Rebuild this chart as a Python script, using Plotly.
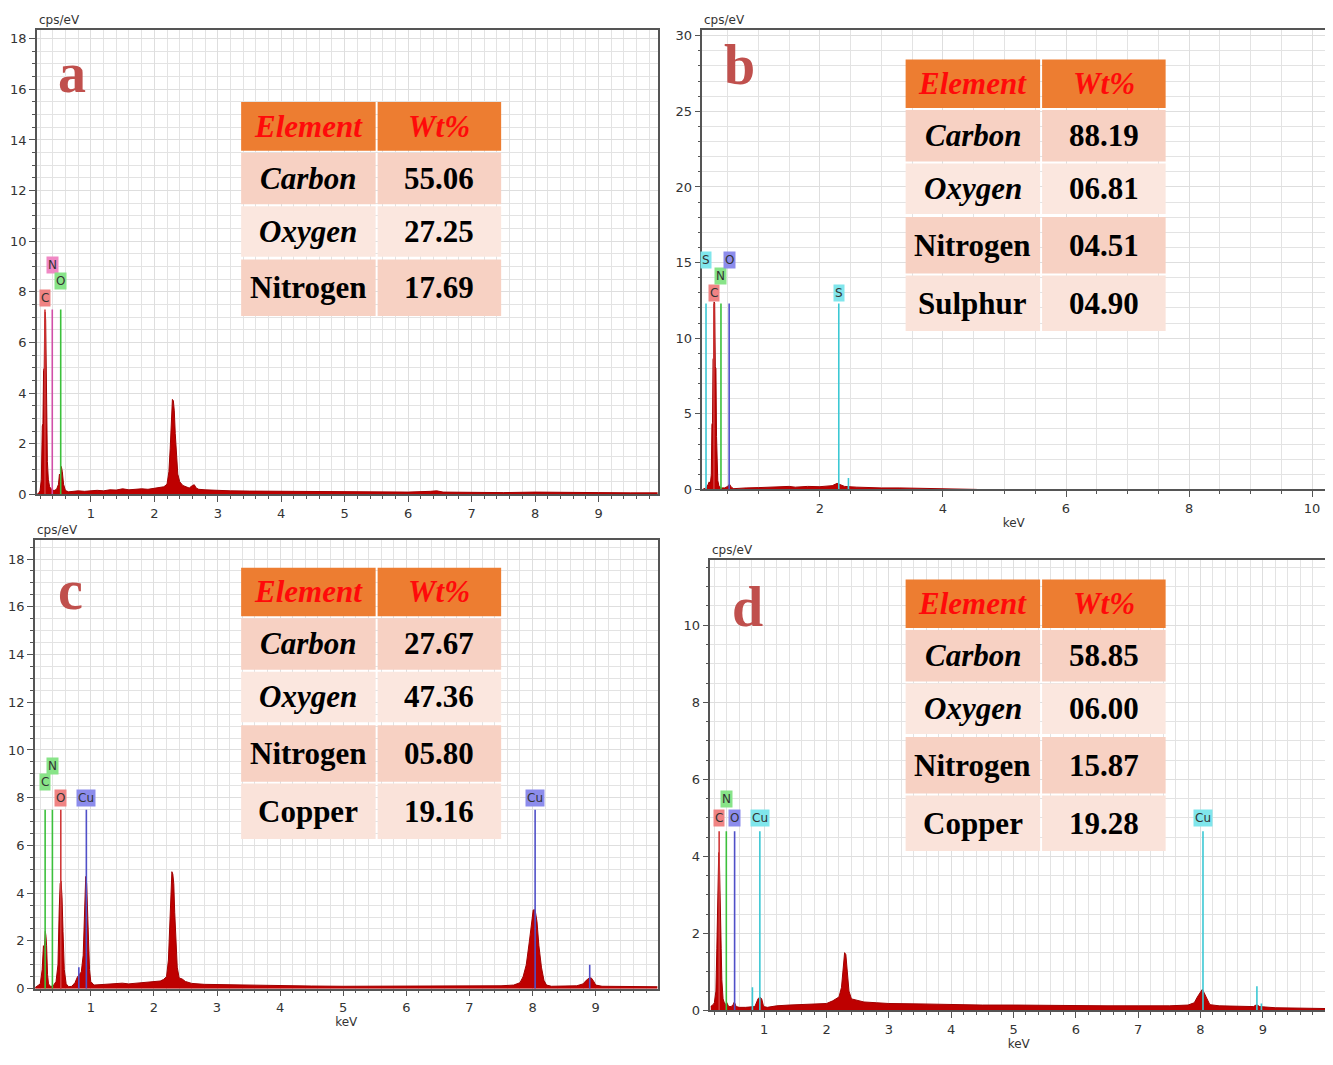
import plotly.graph_objects as go

# page body has an 8px margin: the figure is made smaller and reference pixel coords shifted
OFF = 8
OFF_X = 8
W, H = 1333 - OFF, 1065 - OFF

# ---------------- spectra (keV, cps/eV) ----------------
a_energy = [0.15, 0.18, 0.20, 0.22, 0.235, 0.245, 0.255, 0.265, 0.272, 0.28, 0.288, 0.295, 0.305, 0.315,
            0.33, 0.35, 0.38, 0.42, 0.46, 0.49, 0.505, 0.52, 0.535, 0.55, 0.57, 0.60, 0.65, 0.70, 0.80,
            0.90, 1.0, 1.1, 1.2, 1.3, 1.4, 1.5, 1.6, 1.7, 1.8, 1.9, 2.0, 2.1, 2.15, 2.2, 2.23, 2.25,
            2.27, 2.285, 2.30, 2.315, 2.33, 2.35, 2.37, 2.40, 2.45, 2.5, 2.55, 2.6, 2.63, 2.66, 2.7,
            2.8, 3.0, 3.2, 3.5, 4.0, 4.5, 5.0, 5.5, 6.0, 6.35, 6.45, 6.55, 7.0, 7.5, 8.0, 8.5, 9.0,
            9.5, 9.95]
a_counts = [0.0, 0.05, 0.15, 0.6, 2.7, 2.8, 4.9, 5.0, 6.8, 7.2, 6.9, 5.2, 2.8, 1.3,
            0.6, 0.3, 0.2, 0.15, 0.2, 0.4, 0.8, 0.7, 1.1, 0.9, 0.4, 0.15, 0.1, 0.12, 0.14,
            0.12, 0.15, 0.16, 0.14, 0.18, 0.17, 0.22, 0.18, 0.2, 0.22, 0.2, 0.24, 0.26, 0.3, 0.4, 0.9, 1.8,
            3.0, 3.75, 3.7, 3.3, 2.4, 1.4, 0.8, 0.5, 0.35, 0.3, 0.25, 0.35, 0.38, 0.25, 0.2,
            0.18, 0.15, 0.14, 0.13, 0.12, 0.1, 0.09, 0.08, 0.09, 0.12, 0.14, 0.09, 0.08, 0.07, 0.09, 0.07, 0.07,
            0.06, 0.06]

b_energy = [0.09, 0.15, 0.18, 0.20, 0.22, 0.235, 0.245, 0.255, 0.263, 0.272, 0.28, 0.29, 0.30, 0.31,
            0.32, 0.33, 0.34, 0.36, 0.40, 0.45, 0.50, 0.53, 0.56, 0.60, 0.70, 0.80, 1.0, 1.2, 1.4,
            1.5, 1.6, 1.8, 2.0, 2.1, 2.2, 2.28, 2.32, 2.4, 2.6, 2.8, 3.0, 3.3, 3.6, 4.0, 4.3, 4.5, 4.55]
b_counts = [0.0, 0.1, 0.3, 0.5, 0.4, 1.0, 4.3, 4.4, 8.6, 8.7, 12.4, 12.3, 8.1, 8.0,
            3.5, 1.5, 0.6, 0.2, 0.1, 0.1, 0.2, 0.35, 0.15, 0.05, 0.1, 0.1, 0.12, 0.15, 0.18,
            0.2, 0.15, 0.2, 0.18, 0.2, 0.25, 0.4, 0.35, 0.2, 0.15, 0.12, 0.1, 0.1, 0.08, 0.06, 0.05, 0.03, 0.0]

c_energy = [0.12, 0.2, 0.23, 0.25, 0.265, 0.28, 0.29, 0.30, 0.315, 0.33, 0.36, 0.40, 0.45, 0.48, 0.50,
            0.515, 0.53, 0.545, 0.56, 0.58, 0.61, 0.65, 0.70, 0.75, 0.79, 0.82, 0.85, 0.88, 0.90, 0.92,
            0.935, 0.95, 0.965, 0.98, 1.0, 1.05, 1.1, 1.2, 1.3, 1.4, 1.5, 1.6, 1.7, 1.8, 1.9, 2.0, 2.1,
            2.15, 2.2, 2.23, 2.25, 2.27, 2.285, 2.30, 2.315, 2.33, 2.35, 2.37, 2.40, 2.45, 2.5, 2.6,
            2.8, 3.0, 3.5, 4.0, 4.5, 5.0, 5.5, 6.0, 6.5, 7.0, 7.5, 7.7, 7.8, 7.85, 7.9, 7.95, 7.98,
            8.01, 8.04, 8.07, 8.10, 8.14, 8.18, 8.22, 8.3, 8.5, 8.7, 8.8, 8.85, 8.9, 8.93, 8.97, 9.0,
            9.1, 9.5, 9.98]
c_counts = [0.05, 0.2, 0.8, 1.8, 1.7, 2.4, 2.2, 1.8, 0.6, 0.2, 0.1, 0.1, 0.3, 1.0, 3.3,
            4.4, 4.5, 3.8, 2.4, 0.8, 0.2, 0.08, 0.1, 0.25, 0.5, 0.6, 0.7, 1.4, 3.0, 4.7,
            4.4, 3.5, 2.0, 0.8, 0.3, 0.15, 0.16, 0.17, 0.18, 0.2, 0.23, 0.2, 0.22, 0.26, 0.25, 0.28, 0.32,
            0.38, 0.5, 1.2, 2.8, 4.0, 4.9, 4.8, 4.4, 3.2, 1.8, 0.9, 0.45, 0.4, 0.3, 0.22,
            0.18, 0.17, 0.14, 0.12, 0.11, 0.1, 0.1, 0.09, 0.1, 0.1, 0.12, 0.15, 0.25, 0.5, 1.0, 2.0, 2.8,
            3.3, 3.3, 2.8, 1.8, 0.9, 0.35, 0.15, 0.1, 0.1, 0.12, 0.2, 0.35, 0.45, 0.45, 0.3, 0.15,
            0.1, 0.09, 0.08]

d_energy = [0.14, 0.18, 0.20, 0.225, 0.24, 0.25, 0.26, 0.27, 0.28, 0.29, 0.30, 0.31, 0.32, 0.34, 0.37,
            0.40, 0.43, 0.47, 0.50, 0.52, 0.55, 0.60, 0.70, 0.78, 0.85, 0.90, 0.93, 0.96, 0.99, 1.05,
            1.2, 1.4, 1.6, 1.8, 2.0, 2.1, 2.2, 2.24, 2.27, 2.29, 2.31, 2.33, 2.36, 2.4, 2.5, 2.6, 2.8,
            3.0, 3.5, 4.0, 4.5, 5.0, 5.5, 6.0, 6.5, 7.0, 7.5, 7.8, 7.9, 7.95, 8.0, 8.03, 8.06, 8.1,
            8.15, 8.3, 8.6, 8.85, 8.9, 8.95, 9.2, 9.5, 10.0]
d_counts = [0.1, 0.15, 0.2, 0.5, 1.6, 2.8, 2.8, 4.1, 4.0, 2.7, 2.6, 1.6, 0.8, 0.3, 0.15,
            0.2, 0.1, 0.1, 0.15, 0.22, 0.1, 0.08, 0.08, 0.1, 0.1, 0.3, 0.35, 0.3, 0.1, 0.08,
            0.12, 0.14, 0.15, 0.16, 0.18, 0.25, 0.35, 0.6, 1.1, 1.5, 1.45, 1.0, 0.5, 0.3, 0.26, 0.22, 0.2,
            0.18, 0.17, 0.15, 0.14, 0.14, 0.13, 0.12, 0.12, 0.12, 0.12, 0.14, 0.2, 0.35, 0.5, 0.55, 0.45, 0.3,
            0.15, 0.12, 0.1, 0.1, 0.15, 0.1, 0.07, 0.06, 0.05]

# ---------------- element marker lines ----------------
a_line_elem = ['C', 'N', 'O']
a_line_keV = [0.277, 0.392, 0.525]
a_line_top = [7.3, 7.3, 7.3]
a_line_level = [0, 2, 1]
a_line_color = ['red', 'pink', 'green']

b_line_elem = ['S', 'C', 'N', 'O', 'S', 'S']
b_line_keV = [0.149, 0.277, 0.392, 0.525, 2.307, 2.464]
b_line_top = [12.3, 12.3, 12.3, 12.3, 12.3, 0.75]
b_line_level = [2, 0, 1, 2, 0, None]
b_line_color = ['cyan', 'red', 'green', 'blue', 'cyan', 'cyan']

c_line_elem = ['C', 'N', 'O', 'Cu', 'Cu', 'Cu', 'Cu']
c_line_keV = [0.277, 0.392, 0.525, 0.811, 0.930, 8.040, 8.905]
c_line_top = [7.5, 7.5, 7.5, 0.9, 7.5, 7.5, 1.0]
c_line_level = [1, 2, 0, None, 0, 0, None]
c_line_color = ['green', 'green', 'red', 'blue', 'blue', 'blue', 'blue']

d_line_elem = ['C', 'N', 'O', 'Cu', 'Cu', 'Cu', 'Cu', 'Cu']
d_line_keV = [0.277, 0.392, 0.525, 0.811, 0.930, 8.040, 8.905, 8.977]
d_line_top = [4.65, 4.65, 4.65, 0.6, 4.65, 4.65, 0.63, 0.18]
d_line_level = [0, 1, 0, None, 0, 0, None, None]
d_line_color = ['red', 'green', 'blue', 'cyan', 'cyan', 'cyan', 'cyan', 'cyan']

# ---------------- composition tables ----------------
a_tab_elem = ['Carbon', 'Oxygen', 'Nitrogen']
a_tab_wt = ['55.06', '27.25', '17.69']
b_tab_elem = ['Carbon', 'Oxygen', 'Nitrogen', 'Sulphur']
b_tab_wt = ['88.19', '06.81', '04.51', '04.90']
c_tab_elem = ['Carbon', 'Oxygen', 'Nitrogen', 'Copper']
c_tab_wt = ['27.67', '47.36', '05.80', '19.16']
d_tab_elem = ['Carbon', 'Oxygen', 'Nitrogen', 'Copper']
d_tab_wt = ['58.85', '06.00', '15.87', '19.28']

# ---------------- styles ----------------
LINE_COL = {'red': '#D03A3A', 'pink': '#D050A8', 'green': '#3CC03C', 'cyan': '#3CC8D4', 'blue': '#5050C8'}
BOX_COL = {'red': '#F08484', 'pink': '#F088C4', 'green': '#88E488', 'cyan': '#80E6EC', 'blue': '#8C8CEC'}
ITALIC_ELEM = {'Carbon', 'Oxygen'}

panels = [
    dict(s='', letter='a', e=a_energy, c=a_counts,
         le=a_line_elem, lk=a_line_keV, lt=a_line_top, ll=a_line_level, lc=a_line_color,
         te=a_tab_elem, tw=a_tab_wt,
         px=(32, 655), py=(28, 497), xr=[0.15, 9.93], yr=[0, 18.35],
         xd=1, xm=0.2, yd=2, ym=0.5, lab_base=7.77, lab_step=0.64, kev=False,
         tab=(237, 101), let_pos=(67, 72)),
    dict(s='2', letter='b', e=b_energy, c=b_counts,
         le=b_line_elem, lk=b_line_keV, lt=b_line_top, ll=b_line_level, lc=b_line_color,
         te=b_tab_elem, tw=b_tab_wt,
         px=(700, 1325), py=(28, 492), xr=[0.09, 10.21], yr=[0, 30.39],
         xd=2, xm=0.5, yd=5, ym=1, lab_base=13.0, lab_step=1.08, kev=True,
         tab=(904, 58), let_pos=(737, 64)),
    dict(s='3', letter='c', e=c_energy, c=c_counts,
         le=c_line_elem, lk=c_line_keV, lt=c_line_top, ll=c_line_level, lc=c_line_color,
         te=c_tab_elem, tw=c_tab_wt,
         px=(30, 655), py=(543, 996), xr=[0.115, 9.98], yr=[0, 18.8],
         xd=1, xm=0.2, yd=2, ym=0.5, lab_base=8.0, lab_step=0.67, kev=True,
         tab=(237, 571), let_pos=(66, 594)),
    dict(s='4', letter='d', e=d_energy, c=d_counts,
         le=d_line_elem, lk=d_line_keV, lt=d_line_top, ll=d_line_level, lc=d_line_color,
         te=d_tab_elem, tw=d_tab_wt,
         px=(708, 1327), py=(563, 1018), xr=[0.136, 10.03], yr=[0, 11.7],
         xd=1, xm=0.2, yd=2, ym=0.5, lab_base=4.99, lab_step=0.49, kev=True,
         tab=(904, 583), let_pos=(745, 611)),
]

fig = go.Figure()
shapes = []
annotations = []
layout = dict(width=W, height=H, margin=dict(l=0, r=0, t=0, b=0, pad=0),
              paper_bgcolor='white', plot_bgcolor='white', showlegend=False,
              hovermode=False)

AX_COL = '#555555'
TICKFONT = dict(family='DejaVu Sans', size=13, color='#333333')

# table geometry (pixels relative to table top-left)
COLS = [(0, 135), (137, 261)]
ROWS = [(0, 49), (51, 103), (105, 156), (159, 216), (218, 274)]
ROW_FILL = ['#ED7D31', '#F7D1C3', '#FBE7DF', '#F7D1C3', '#FAE3DA']


def px2x(p):
    return min(max((p - OFF_X) / W, 0), 1)


def py2y(p):
    return 1 - (p - OFF) / H


for P in panels:
    s = P['s']
    xa, ya = 'x' + s, 'y' + s
    # spectrum
    fig.add_trace(go.Scatter(x=P['e'], y=P['c'], mode='lines', fill='tozeroy',
                             line=dict(color='#A00000', width=1), fillcolor='#BE0000',
                             xaxis=xa, yaxis=ya))
    # element lines
    for el, k, top, lev, col in zip(P['le'], P['lk'], P['lt'], P['ll'], P['lc']):
        fig.add_trace(go.Scatter(x=[k, k], y=[0, top], mode='lines',
                                 line=dict(color=LINE_COL[col], width=1.6),
                                 xaxis=xa, yaxis=ya))
        if lev is not None:
            annotations.append(dict(x=k, y=P['lab_base'] + lev * P['lab_step'], xref=xa, yref=ya,
                                    xanchor='center', yanchor='middle',
                                    text=el, showarrow=False, bgcolor=BOX_COL[col], borderpad=1,
                                    font=dict(family='DejaVu Sans', size=12, color='#333333')))
    # axes
    layout['xaxis' + s] = dict(
        domain=[px2x(P['px'][0]), px2x(P['px'][1])], range=P['xr'], anchor=ya,
        showline=True, linecolor=AX_COL, linewidth=1.5, mirror=True,
        ticks='outside', ticklen=6, tickcolor=AX_COL, tick0=0, dtick=P['xd'],
        showgrid=True, gridcolor='#DEDEDE', zeroline=False, tickfont=TICKFONT,
        minor=dict(dtick=P['xm'], tick0=0, ticks='outside', ticklen=3, tickcolor=AX_COL,
                   showgrid=True, gridcolor='#E3E3E3'),
        title=dict(text='keV' if P['kev'] else '', font=dict(family='DejaVu Sans', size=12, color='#333333'),
                   standoff=4))
    layout['yaxis' + s] = dict(
        domain=[py2y(P['py'][1]), py2y(P['py'][0])], range=P['yr'], anchor=xa,
        showline=True, linecolor=AX_COL, linewidth=1.5, mirror=True,
        ticks='outside', ticklen=6, tickcolor=AX_COL, tick0=0, dtick=P['yd'],
        showgrid=True, gridcolor='#DEDEDE', zeroline=False, tickfont=TICKFONT,
        minor=dict(dtick=P['ym'], tick0=0, ticks='outside', ticklen=3, tickcolor=AX_COL,
                   showgrid=True, gridcolor='#E3E3E3'))
    # cps/eV
    annotations.append(dict(x=0.0, y=1.0, xref=xa + ' domain', yref=ya + ' domain',
                            xanchor='left', yanchor='bottom', yshift=1, text='cps/eV', showarrow=False,
                            font=dict(family='DejaVu Sans', size=12, color='#333333')))
    # panel letter
    annotations.append(dict(x=px2x(P['let_pos'][0]), y=py2y(P['let_pos'][1]), xref='paper', yref='paper',
                            xanchor='center', yanchor='middle',
                            text=P['letter'], showarrow=False,
                            font=dict(family='Liberation Serif', size=56, color='#C0504D', weight='bold')))
    # table
    tx, ty = P['tab']
    header = ['Element', 'Wt%']
    rows = [header] + [[e, w] for e, w in zip(P['te'], P['tw'])]
    for ri, row in enumerate(rows):
        r0, r1 = ROWS[ri]
        for ci, txt in enumerate(row):
            c0, c1 = COLS[ci]
            shapes.append(dict(type='rect', xref='paper', yref='paper',
                               x0=px2x(tx + c0), x1=px2x(tx + c1), y0=py2y(ty + r1), y1=py2y(ty + r0),
                               fillcolor=ROW_FILL[ri], line=dict(width=0), layer='above'))
            if ri == 0:
                f = dict(family='Liberation Serif', size=31, color='#FF0A0A', weight='bold', style='italic')
            else:
                ital = (ci == 0 and txt in ITALIC_ELEM)
                f = dict(family='Liberation Serif', size=31, color='#000000', weight='bold',
                         style='italic' if ital else 'normal')
            annotations.append(dict(x=px2x(tx + (c0 + c1) / 2), y=py2y(ty + (r0 + r1) / 2),
                                    xref='paper', yref='paper', xanchor='center', yanchor='middle',
                                    text=txt, showarrow=False, font=f))

layout['shapes'] = shapes
layout['annotations'] = annotations
fig.update_layout(**layout)
fig.write_html('out.html')
